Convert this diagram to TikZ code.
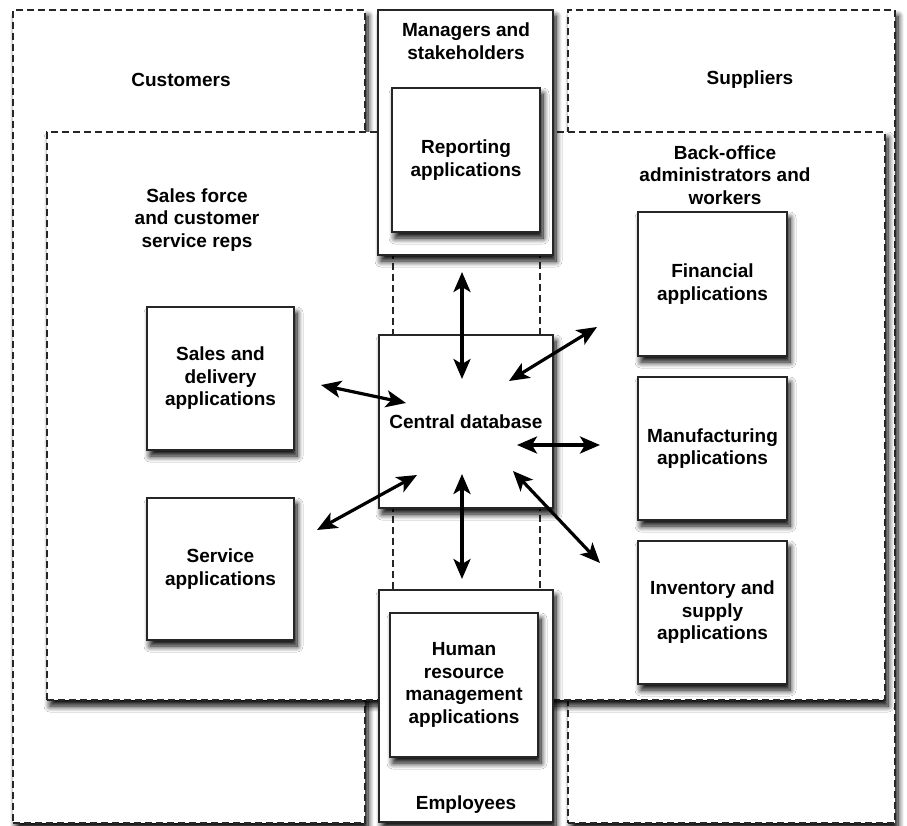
\documentclass[tikz,border=0pt]{standalone}
\usepackage{fontspec}
\setmainfont{Liberation Sans}
\usetikzlibrary{arrows.meta,shadows.blur}
\begin{document}
\begin{tikzpicture}[x=1pt,y=-1pt,
  lbl/.style={align=center,font=\bfseries\fontsize{19}{22.5}\selectfont,inner sep=0pt},
  shade/.style={blur shadow={shadow xshift=3pt,shadow yshift=-6pt,shadow blur steps=10,shadow opacity=100,shadow blur radius=6pt}},
  zone/.style={draw=black!85,line width=1.5pt,dash pattern=on 7pt off 4pt,fill=white,rectangle,inner sep=0pt},
  panel/.style={draw=black!85,line width=1.8pt,fill=white,rectangle,inner sep=0pt,shade},
  appbox/.style={panel,align=center,font=\bfseries\fontsize{19}{22.5}\selectfont},
  link/.style={line width=3.2pt,
    {Stealth[length=20pt,width=17pt,inset=5pt]}-{Stealth[length=20pt,width=17pt,inset=5pt]}}]
\useasboundingbox (0,0) rectangle (907,826);

% outer user groups
\node[zone,shade,minimum width=352pt,minimum height=813pt] (cust) at (189,416.5) {};
\node[zone,shade,minimum width=327pt,minimum height=813pt] (supp) at (731.5,416.5) {};
% inner band of internal staff
\node[zone,shade,minimum width=838pt,minimum height=568pt] (inner) at (466,416) {};
% central column behind the middle panels
\node[zone,minimum width=147pt,minimum height=800pt] (midcol) at (466.5,415) {};

\node[lbl] (custlbl) at (181,80) {Customers};
\node[lbl] (supplbl) at (750,80) {Suppliers};
\node[lbl] (saleslbl) at (197,220) {Sales force\\and customer\\service reps};
\node[lbl] (backlbl) at (725,175) {Back-office\\administrators and\\workers};

% managers panel
\node[panel,minimum width=175pt,minimum height=245pt] (mgr) at (465.5,132.5) {};
\node[lbl] (mgrlbl) at (466,41) {Managers and\\stakeholders};
\node[appbox,minimum width=148pt,minimum height=144pt] (rep) at (466,160) {Reporting\\applications};

% employees panel
\node[panel,minimum width=174pt,minimum height=232pt] (emp) at (466,706) {};
\node[lbl] (emplbl) at (466,805) {Employees};
\node[appbox,minimum width=148pt,minimum height=144pt] (hr) at (464,685) {Human\\resource\\management\\applications};

% central database
\node[appbox,minimum width=174pt,minimum height=173pt] (db) at (466,421.5) {Central database};

% left applications
\node[appbox,minimum width=147pt,minimum height=143pt] (sales) at (220.5,378.5) {Sales and\\delivery\\applications};
\node[appbox,minimum width=147pt,minimum height=142pt] (serv) at (220.5,569) {Service\\applications};

% right applications
\node[appbox,minimum width=149pt,minimum height=144pt] (fin) at (712.5,284) {Financial\\applications};
\node[appbox,minimum width=149pt,minimum height=143pt] (man) at (712.5,448.5) {Manufacturing\\applications};
\node[appbox,minimum width=149pt,minimum height=143pt] (inv) at (712.5,612.5) {Inventory and\\supply\\applications};

% arrow end points
\coordinate (aT1) at (462,272);  \coordinate (aT2) at (462,379);
\coordinate (aF1) at (597,327);  \coordinate (aF2) at (509,381);
\coordinate (aS1) at (321,385);  \coordinate (aS2) at (406,403);
\coordinate (aM1) at (517,445);  \coordinate (aM2) at (600,445);
\coordinate (aV1) at (317,530);  \coordinate (aV2) at (417,475);
\coordinate (aB1) at (462,474);  \coordinate (aB2) at (462,579);
\coordinate (aI1) at (513,471);  \coordinate (aI2) at (600,563);

\draw[link] (aT1) -- (aT2);
\draw[link] (aF1) -- (aF2);
\draw[link] (aS1) -- (aS2);
\draw[link] (aM1) -- (aM2);
\draw[link] (aV1) -- (aV2);
\draw[link] (aB1) -- (aB2);
\draw[link] (aI1) -- (aI2);
\end{tikzpicture}
\end{document}
